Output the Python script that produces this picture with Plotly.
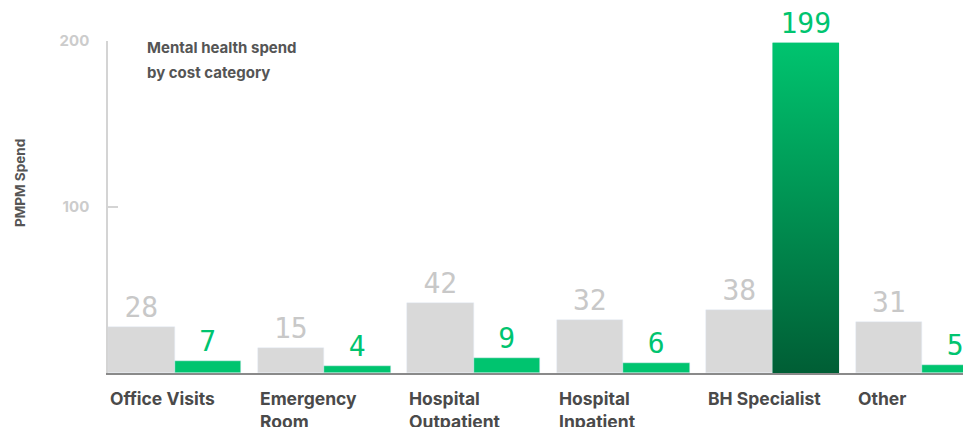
import plotly.graph_objects as go

categories = ["Office Visits", "Emergency<br>Room", "Hospital<br>Outpatient", "Hospital<br>Inpatient", "BH Specialist", "Other"]
benchmark = [28, 15, 42, 32, 38, 31]
mental = [7, 4, 9, 6, 199, 5]
highlight_index = 4
y_ticks = [100, 200]
note_lines = ["Mental health spend", "by cost category"]
y_title = "PMPM Spend"

GRAY = "#d9d9d9"
GRAY_TXT = "#c8c8c8"
GREEN = "#00c46f"
GREEN_DARK = "#005e35"
DARK = "#4a4a4a"
W = 0.445
FIG_W = 971
PLOT_W = FIG_W - 100
PX_PER_CAT = 149.5

idx = list(range(len(categories)))
fig = go.Figure()
fig.add_bar(x=idx, y=benchmark, width=W, offset=-W, marker_color=GRAY,
            text=[str(v) for v in benchmark], textposition="outside", cliponaxis=False,
            textfont=dict(family="DejaVu Sans Mono", size=28, color=GRAY_TXT),
            constraintext="none")
fig.add_bar(x=idx, y=mental, width=W, offset=0, marker_color=GREEN,
            text=[str(v) for v in mental], textposition="outside", cliponaxis=False,
            textfont=dict(family="DejaVu Sans Mono", size=28, color=GREEN),
            constraintext="none")
# gradient overlay for highlighted bar
h = highlight_index
fig.add_scatter(x=[h, h + W, h + W, h, h], y=[0, 0, mental[h], mental[h], 0],
                mode="lines", line=dict(width=0), fill="toself",
                fillgradient=dict(type="vertical", colorscale=[[0, GREEN_DARK], [1, GREEN]]),
                hoverinfo="skip", showlegend=False)

for i, c in enumerate(categories):
    fig.add_annotation(x=i - W, y=0, xref="x", yref="y", text=c, showarrow=False,
                       xanchor="left", yanchor="top", align="left", yshift=-13,
                       font=dict(family="Inter", size=17.5, color=DARK, weight="bold"))

for k, line in enumerate(note_lines):
    fig.add_annotation(x=0, y=1, xref="paper", yref="paper", text=line,
                       showarrow=False, xanchor="left", yanchor="middle",
                       xshift=37, yshift=-6 - k * 25,
                       font=dict(family="Inter", size=15, color="#555555", weight="bold"))

fig.add_annotation(x=0, y=(373 - 183) / 332, xref="paper", yref="paper", text=y_title,
                   showarrow=False, textangle=-90, xanchor="center", yanchor="middle",
                   xshift=-88,
                   font=dict(family="Inter", size=13.5, color="#555555", weight="bold"))

fig.update_layout(
    width=FIG_W, height=427, margin=dict(l=100, r=0, t=33, b=62),
    plot_bgcolor="white", paper_bgcolor="white", showlegend=False, bargap=0,
    xaxis=dict(range=[-W, -W + PLOT_W / PX_PER_CAT], showgrid=False, zeroline=False,
               showticklabels=False, ticks="", showline=True, linecolor="#8a8a8a",
               linewidth=2, mirror=False),
    yaxis=dict(range=[0, 200], tickvals=y_ticks, showgrid=False, zeroline=False,
               showline=True, linecolor="#d4d4d4", linewidth=1.5, ticks="inside",
               ticklen=10, tickcolor="#d4d4d4", tickwidth=1.5, ticklabelstandoff=14,
               tickfont=dict(family="Inter", size=15, color="#cccccc", weight="bold")),
)
fig.write_html("out.html")
